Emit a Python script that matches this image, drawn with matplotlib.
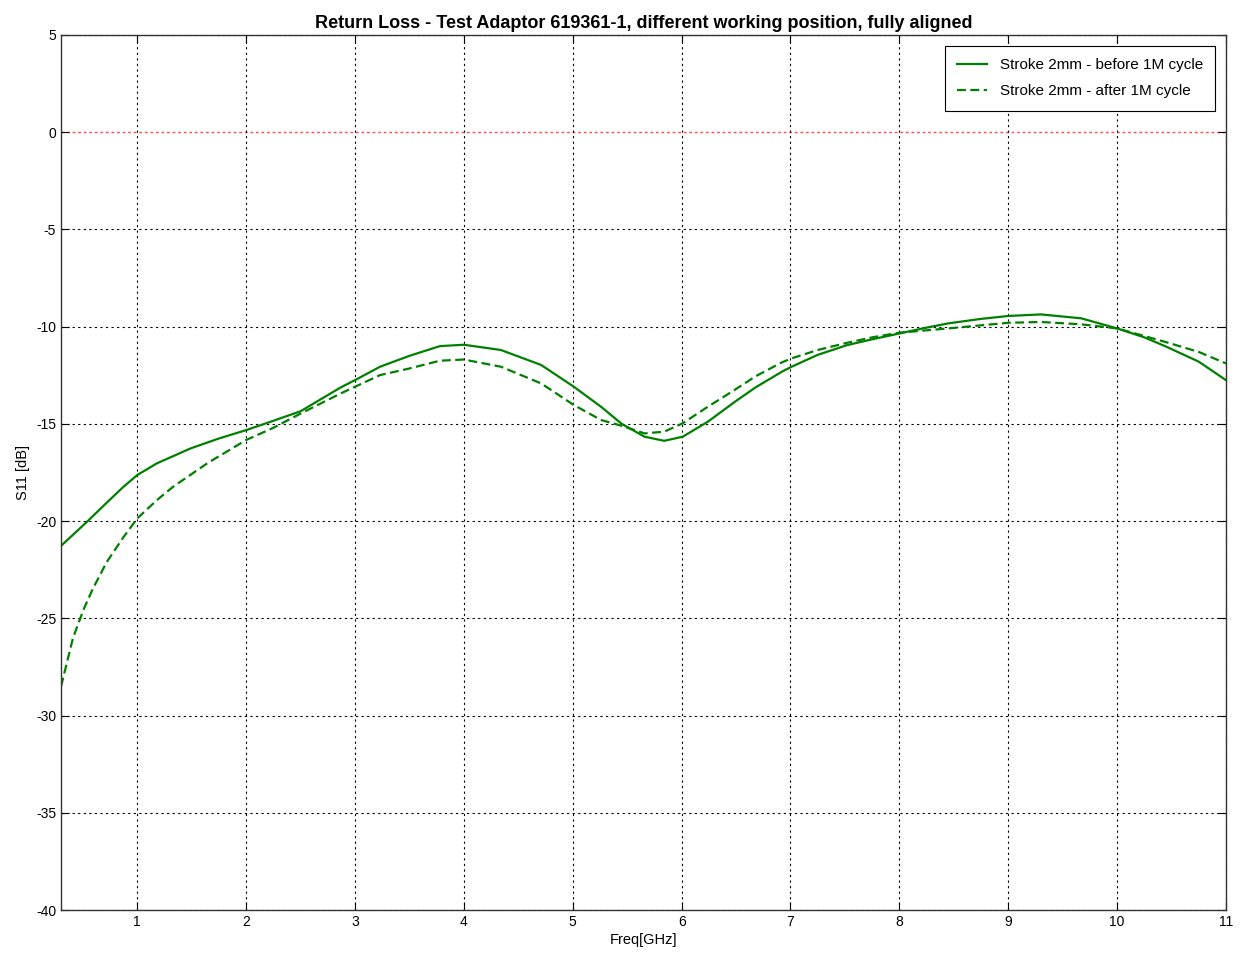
import matplotlib
matplotlib.use('Agg')
import matplotlib.pyplot as plt

plt.rcParams['font.family'] = ['Liberation Sans', 'DejaVu Sans']
plt.rcParams['axes.unicode_minus'] = False

# S11 measurements, before and after 1M cycles (GHz / dB)
freq_before = [0.3, 0.41, 0.55, 0.72, 0.87, 1.0, 1.18, 1.49, 1.75, 2.0, 2.25,
               2.5, 2.87, 3.0, 3.23, 3.5, 3.78, 4.0, 4.34, 4.71, 5.01, 5.26,
               5.45, 5.66, 5.84, 6.01, 6.24, 6.49, 6.68, 6.92, 7.01, 7.25,
               7.52, 7.75, 8.0, 8.25, 8.45, 8.75, 9.0, 9.3, 9.67, 10.0, 10.25,
               10.44, 10.75, 11.0]
s11_before = [-21.27, -20.7, -19.97, -19.05, -18.25, -17.63, -17.03, -16.26,
              -15.75, -15.32, -14.84, -14.35, -13.12, -12.75, -12.06, -11.5,
              -11.0, -10.93, -11.2, -11.97, -13.09, -14.12, -15.0, -15.66,
              -15.87, -15.66, -14.89, -13.86, -13.12, -12.32, -12.06, -11.45,
              -10.95, -10.65, -10.35, -10.05, -9.83, -9.6, -9.45, -9.37, -9.57,
              -10.09, -10.55, -11.0, -11.8, -12.75]

freq_after = [0.3, 0.41, 0.51, 0.59, 0.72, 0.87, 1.0, 1.18, 1.33, 1.65, 2.0,
              2.25, 2.5, 2.87, 3.23, 3.5, 3.78, 4.0, 4.34, 4.71, 5.01, 5.26,
              5.45, 5.66, 5.84, 6.01, 6.24, 6.46, 6.68, 6.92, 7.01, 7.25, 7.52,
              7.75, 8.0, 8.45, 9.0, 9.3, 9.67, 10.0, 10.44, 10.75, 11.0]
s11_after = [-28.5, -26.0, -24.5, -23.5, -22.1, -20.85, -19.86, -18.92, -18.23,
             -17.0, -15.83, -15.2, -14.47, -13.43, -12.49, -12.15, -11.75,
             -11.69, -12.06, -12.92, -14.03, -14.8, -15.1, -15.49, -15.4,
             -14.97, -14.12, -13.35, -12.55, -11.84, -11.63, -11.2, -10.83,
             -10.55, -10.31, -10.09, -9.8, -9.76, -9.88, -10.09, -10.78, -11.3,
             -11.89]

y_ticks = [5, 0, -5, -10, -15, -20, -25, -30, -35, -40]
x_ticks = [1, 2, 3, 4, 5, 6, 7, 8, 9, 10, 11]

fig = plt.figure(figsize=(12.41, 9.56), dpi=100)
ax = fig.add_axes([0.0492, 0.0481, 0.9387, 0.9153])

green = '#008000'
ax.plot(freq_before, s11_before, color=green, lw=1.6,
        label='Stroke 2mm - before 1M cycle')
ax.plot(freq_after, s11_after, color=green, lw=1.6, linestyle=(0, (4, 2)),
        label='Stroke 2mm - after 1M cycle')

# 0 dB reference line
ax.axhline(0, color='#ff4d4d', lw=1, linestyle=(0, (2, 2)), zorder=1)

ax.set_xlim(0.3, 11)
ax.set_ylim(-40, 5)
ax.set_xticks(x_ticks)
ax.set_yticks(y_ticks)
ax.grid(True, color='black', lw=0.8, linestyle=(0, (2, 3)))
# the red line replaces the grid line at 0 dB
for loc, gl in zip(ax.get_yticks(), ax.yaxis.get_gridlines()):
    if loc == 0:
        gl.set_visible(False)
ax.tick_params(direction='in', length=6, top=True, right=True, labelsize=10,
               width=0.8)
for s in ax.spines.values():
    s.set_linewidth(1.0)
    s.set_color('#333333')

ax.set_title('Return Loss - Test Adaptor 619361-1, different working position, fully aligned',
             fontsize=13, fontweight='bold', pad=5)
ax.set_xlabel('Freq[GHz]', fontsize=10.5, labelpad=3)
ax.set_ylabel('S11 [dB]', fontsize=10.5, labelpad=4)

leg = ax.legend(loc='upper right', fontsize=11, fancybox=False,
                edgecolor='black', framealpha=1, borderpad=0.8,
                handlelength=2.0, labelspacing=0.8, borderaxespad=0,
                bbox_to_anchor=(0.9906, 0.9874))
leg.get_frame().set_linewidth(0.8)

fig.savefig('out.png', dpi=100)
